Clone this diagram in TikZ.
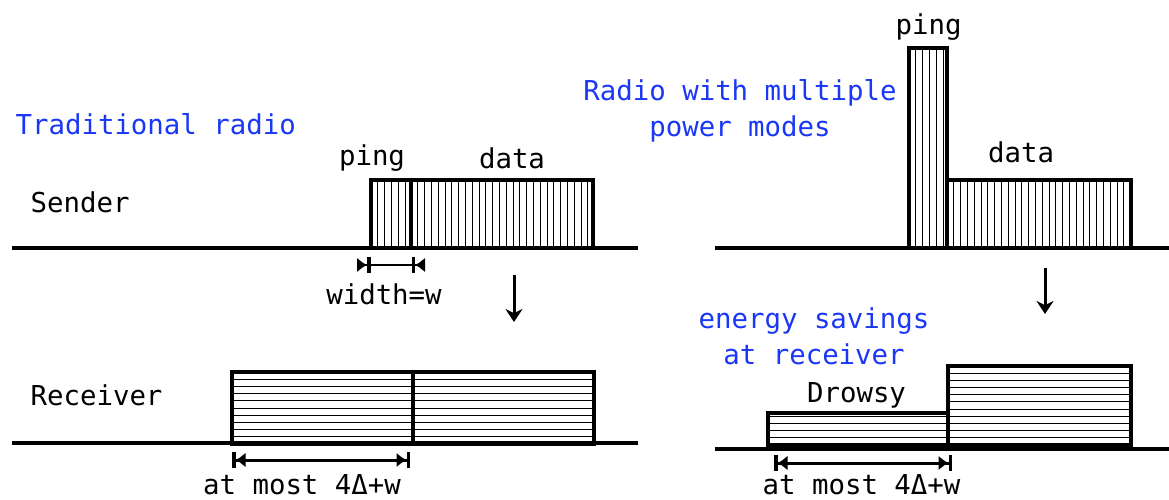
\documentclass[tikz,border=0pt]{standalone}
\usepackage{fontspec}
\setmainfont{DejaVu Sans Mono}
\usepackage{tikz}
\usetikzlibrary{positioning,arrows.meta,calc}
\definecolor{radioblue}{RGB}{25,55,245}
\tikzstyle{arrow} = [line width=3pt,-{Stealth[length=13pt,width=17pt]}]

\begin{document}
\begin{tikzpicture}[
    x=1pt, y=-1pt,
    font=\fontsize{27.4pt}{36pt}\selectfont,
    burst/.style={
        draw,
        rectangle,
        inner sep=0pt,
        outer sep=0pt,
        line width=3.4pt
    },
    vhatch/.style={burst, path picture={
        \foreach \k in {1,...,40}
            \draw[line width=1pt]
                ([xshift=\k*6.8pt]path picture bounding box.south west) --
                ([xshift=\k*6.8pt]path picture bounding box.north west);}},
    hhatch/.style={burst, path picture={
        \foreach \k in {1,...,16}
            \draw[line width=1pt]
                ([yshift=\k*7.2pt]path picture bounding box.south west) --
                ([yshift=\k*7.2pt]path picture bounding box.south east);}},
    axis/.style={line width=3.2pt},
    title/.style={text=radioblue, align=center},
    dimspan/.style={line width=3pt,
        {Bar[width=16pt,line width=3.5pt]Latex[length=10pt,width=15pt]}-{Latex[length=10pt,width=15pt]Bar[width=16pt,line width=3.5pt]}},
    dimpulse/.style={line width=2.6pt,
        {Latex[reversed,length=10pt,width=15pt]Bar[width=16pt,line width=3.5pt]}-{Bar[width=16pt,line width=3.5pt]Latex[reversed,length=10pt,width=15pt]}}
]
\useasboundingbox (0,0) rectangle (1169,500);

% Traditional radio
\node[title, anchor=base west] (tradtitle) at (12,135) {Traditional radio};
\node[anchor=base west] (sendlabel) at (27,212) {Sender};
\node[anchor=base west] (recvlabel) at (27,405) {Receiver};

\node[vhatch, minimum width=40pt, minimum height=68pt] (pingL) at (391,214) {};
\node[vhatch, minimum width=182pt, minimum height=68pt, right=0pt of pingL] (dataL) {};
\node[anchor=base] (pingLtext) at (372,165) {ping};
\node[anchor=base] (dataLtext) at (512,168) {data};
\draw[axis] (12,248) -- (638,248);

\draw[dimpulse] ([shift={(-14,17)}]pingL.south west) -- ([shift={(14,17)}]pingL.south east);
\node[anchor=base] (widthtext) at (384,304) {width=w};

\coordinate (stepLtop) at (514,275);
\coordinate (stepLbot) at (514,322);
\draw[arrow] (stepLtop) -- (stepLbot);

\node[hhatch, minimum width=181pt, minimum height=72pt] (listenL) at (322.5,408) {};
\node[hhatch, minimum width=181pt, minimum height=72pt, right=0pt of listenL] (rxL) {};
\draw[axis] (12,443) -- (638,443);

\draw[dimspan] ([shift={(0,16)}]listenL.south west) -- ([shift={(-3,16)}]listenL.south east);
\node[anchor=base] (boundL) at (302,494) {at most 4Δ+w};

% Radio with multiple power modes
\node[title] (multititle) at (740,111) {Radio with multiple\\power modes};

\node[vhatch, minimum width=38pt, minimum height=200pt] (pingR) at (928,148) {};
\node[vhatch, minimum width=184pt, minimum height=68pt, anchor=south west] (dataR) at (pingR.south east) {};
\node[anchor=base] (pingRtext) at (928.5,35) {ping};
\node[anchor=base] (dataRtext) at (1021,162) {data};
\draw[axis] (715,248) -- (1169,248);

\coordinate (stepRtop) at (1045,268);
\coordinate (stepRbot) at (1045,314);
\draw[arrow] (stepRtop) -- (stepRbot);

\node[title] (savetitle) at (814,336) {energy savings\\at receiver};
\node[hhatch, minimum width=180pt, minimum height=32pt] (drowsyR) at (858,429) {};
\node[hhatch, minimum width=183pt, minimum height=79pt, anchor=south west] (rxR) at (drowsyR.south east) {};
\node[anchor=base] (drowsytext) at (856.5,402) {Drowsy};
\draw[axis] (715,449) -- (1169,449);

\draw[dimspan] ([shift={(6,18)}]drowsyR.south west) -- ([shift={(4,18)}]drowsyR.south east);
\node[anchor=base] (boundR) at (861.5,494) {at most 4Δ+w};

\end{tikzpicture}
\end{document}
